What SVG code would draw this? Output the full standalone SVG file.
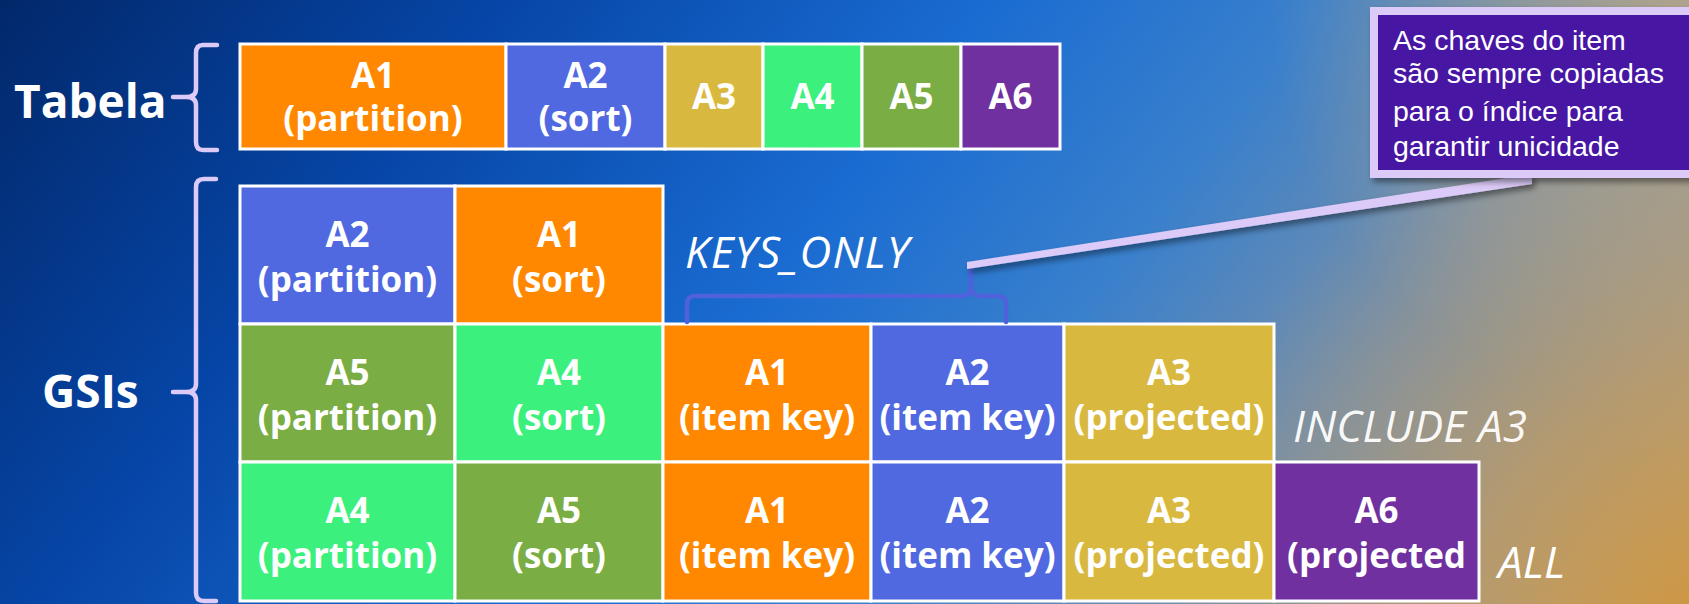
<svg xmlns="http://www.w3.org/2000/svg" width="1689" height="604" viewBox="0 0 1689 604">
<defs>
<linearGradient id="bg" gradientUnits="userSpaceOnUse" x1="0" y1="0" x2="1300" y2="1000">
<stop offset="0" stop-color="#02286a"/>
<stop offset="0.24" stop-color="#0645a6"/>
<stop offset="0.48" stop-color="#1a6cd2"/>
<stop offset="0.64" stop-color="#3a80cc"/>
<stop offset="0.8" stop-color="#7890a8"/>
<stop offset="1" stop-color="#a9a08a"/>
</linearGradient>
<radialGradient id="warm" gradientUnits="userSpaceOnUse" cx="1720" cy="640" r="560">
<stop offset="0" stop-color="#d49636" stop-opacity="0.95"/>
<stop offset="0.45" stop-color="#c99a55" stop-opacity="0.6"/>
<stop offset="1" stop-color="#b09a7a" stop-opacity="0"/>
</radialGradient>
<radialGradient id="tan" gradientUnits="userSpaceOnUse" cx="1689" cy="0" r="420">
<stop offset="0" stop-color="#b8a688" stop-opacity="0.85"/>
<stop offset="1" stop-color="#b8a688" stop-opacity="0"/>
</radialGradient>
<filter id="shadow" x="-10%" y="-30%" width="130%" height="180%">
<feDropShadow dx="3" dy="4" stdDeviation="3" flood-color="#000" flood-opacity="0.45"/>
</filter>
<style>
.cell{stroke:#ffffff;stroke-width:3}
.or{fill:#ff8800}.bl{fill:#5068e0}.go{fill:#d9b840}.gr{fill:#3cf07e}.ol{fill:#7aad43}.pu{fill:#7030a0}
.t{font-family:"Open Sans","Noto Sans","Liberation Sans",sans-serif;font-weight:700;font-size:35px;fill:#ffffff;text-anchor:middle}
.big{font-family:"Open Sans","Noto Sans","Liberation Sans",sans-serif;font-weight:700;font-size:46px;fill:#ffffff}
.it{font-family:"Open Sans","Noto Sans","Liberation Sans",sans-serif;font-style:italic;font-weight:400;font-size:44px;fill:#ffffff}
.co{font-family:"Liberation Sans","Open Sans",sans-serif;font-weight:400;font-size:28.5px;fill:#ffffff}
.brace{fill:none;stroke:#dccbf8;stroke-width:4.5;stroke-linecap:round;stroke-linejoin:round}
</style>
</defs>
<rect width="1689" height="604" fill="url(#bg)"/>
<rect width="1689" height="604" fill="url(#tan)"/>
<rect width="1689" height="604" fill="url(#warm)"/>

<g id="label-tabela">
<text class="big" x="14" y="118">Tabela</text>
<path class="brace" d="M217,45 H203 Q196,45 196,53 V89 Q196,97 186,97 H173 M186,97 Q196,97 196,105 V142 Q196,150 203,150 H217"/>
</g>
<g id="label-gsis">
<text class="big" x="42" y="408">GSIs</text>
<path class="brace" d="M216,179 H204 Q196,179 196,187 V384 Q196,392 186,392 H173 M186,392 Q196,392 196,400 V593 Q196,601 204,601 H216"/>
</g>

<g id="table">
<g id="t-a1"><rect class="cell or" x="240" y="44" width="266" height="105"/><text class="t" x="373" y="88">A1</text><text class="t" x="373" y="131">(partition)</text></g>
<g id="t-a2"><rect class="cell bl" x="506" y="44" width="159" height="105"/><text class="t" x="585.5" y="88">A2</text><text class="t" x="585.5" y="131">(sort)</text></g>
<g id="t-a3"><rect class="cell go" x="665" y="44" width="98" height="105"/><text class="t" x="714" y="109">A3</text></g>
<g id="t-a4"><rect class="cell gr" x="763" y="44" width="99" height="105"/><text class="t" x="812.5" y="109">A4</text></g>
<g id="t-a5"><rect class="cell ol" x="862" y="44" width="99" height="105"/><text class="t" x="911.5" y="109">A5</text></g>
<g id="t-a6"><rect class="cell pu" x="961" y="44" width="99" height="105"/><text class="t" x="1010.5" y="109">A6</text></g>
</g>

<g id="gsi1">
<g id="g1-a2"><rect class="cell bl" x="240" y="186" width="215" height="138"/><text class="t" x="347.5" y="247">A2</text><text class="t" x="347.5" y="292">(partition)</text></g>
<g id="g1-a1"><rect class="cell or" x="455" y="186" width="208" height="138"/><text class="t" x="559" y="247">A1</text><text class="t" x="559" y="292">(sort)</text></g>
</g>

<g id="gsi2">
<g id="g2-a5"><rect class="cell ol" x="240" y="324" width="215" height="138"/><text class="t" x="347.5" y="385">A5</text><text class="t" x="347.5" y="430">(partition)</text></g>
<g id="g2-a4"><rect class="cell gr" x="455" y="324" width="208" height="138"/><text class="t" x="559" y="385">A4</text><text class="t" x="559" y="430">(sort)</text></g>
<g id="g2-a1"><rect class="cell or" x="663" y="324" width="208" height="138"/><text class="t" x="767" y="385">A1</text><text class="t" x="767" y="430">(item key)</text></g>
<g id="g2-a2"><rect class="cell bl" x="871" y="324" width="193" height="138"/><text class="t" x="967.5" y="385">A2</text><text class="t" x="967.5" y="430">(item key)</text></g>
<g id="g2-a3"><rect class="cell go" x="1064" y="324" width="210" height="138"/><text class="t" x="1169" y="385">A3</text><text class="t" x="1169" y="430">(projected)</text></g>
</g>

<g id="gsi3">
<g id="g3-a4"><rect class="cell gr" x="240" y="462" width="215" height="139"/><text class="t" x="347.5" y="523">A4</text><text class="t" x="347.5" y="568">(partition)</text></g>
<g id="g3-a5"><rect class="cell ol" x="455" y="462" width="208" height="139"/><text class="t" x="559" y="523">A5</text><text class="t" x="559" y="568">(sort)</text></g>
<g id="g3-a1"><rect class="cell or" x="663" y="462" width="208" height="139"/><text class="t" x="767" y="523">A1</text><text class="t" x="767" y="568">(item key)</text></g>
<g id="g3-a2"><rect class="cell bl" x="871" y="462" width="193" height="139"/><text class="t" x="967.5" y="523">A2</text><text class="t" x="967.5" y="568">(item key)</text></g>
<g id="g3-a3"><rect class="cell go" x="1064" y="462" width="210" height="139"/><text class="t" x="1169" y="523">A3</text><text class="t" x="1169" y="568">(projected)</text></g>
<g id="g3-a6"><rect class="cell pu" x="1274" y="462" width="205" height="139"/><text class="t" x="1376.5" y="523">A6</text><text class="t" x="1376.5" y="568">(projected</text></g>
</g>

<g id="label-keys-only"><text class="it" x="685" y="268" textLength="224">KEYS_ONLY</text></g>
<g id="label-include"><text class="it" x="1293" y="442" textLength="234" fill-opacity="0.95">INCLUDE A3</text></g>
<g id="label-all"><text class="it" x="1498" y="578" textLength="67">ALL</text></g>

<g id="keys-bracket">
<path d="M687,322 V304 Q687,296 695,296 H962 Q971,296 971,286 V268 M971,286 Q971,296 980,296 H998 Q1006,296 1006,304 V322" fill="none" stroke="#4f62dc" stroke-width="4.5" stroke-linecap="round" stroke-linejoin="round"/>
</g>

<g id="connectors">
<polygon points="967,262 1532,174 1532,184 967,269" fill="#dccbf8" filter="url(#shadow)"/>
</g>

<g id="callout">
<rect x="1374" y="11" width="330" height="163" fill="#4617a3" stroke="#dccbf8" stroke-width="8" filter="url(#shadow)"/>
<text class="co" x="1393" y="50">As chaves do item</text>
<text class="co" x="1393" y="83">são sempre copiadas</text>
<text class="co" x="1393" y="121">para o índice para</text>
<text class="co" x="1393" y="156">garantir unicidade</text>
</g>
</svg>
